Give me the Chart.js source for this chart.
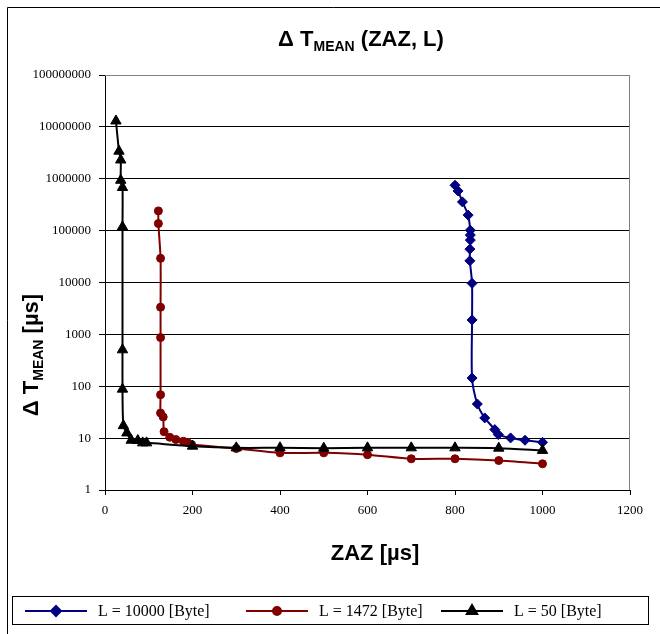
<!DOCTYPE html>
<html>
<head>
<meta charset="utf-8">
<script src="https://cdn.jsdelivr.net/npm/chart.js"></script>
<style>
  html, body { margin: 0; padding: 0; background: #fff; }
  canvas { display: block; }
</style>
</head>
<body>
<canvas id="grafico" width="660" height="634"></canvas>
<script>
// Delta T_MEAN ueber ZAZ, je Paketlaenge L

const xTicks = [0, 200, 400, 600, 800, 1000, 1200];
const yTicks = [1, 10, 100, 1000, 10000, 100000, 1000000, 10000000, 100000000];

const serienNamen = ['L = 10000 [Byte]', 'L = 1472 [Byte]', 'L = 50 [Byte]'];

// L = 10000
const zaz10000 = [800, 807, 817, 830, 835, 835, 835, 834, 834, 839, 839, 839, 851, 868, 891, 899, 927, 960, 1000];
const dt10000 = [750000, 582000, 358000, 199000, 102000, 82000, 65600, 44000, 26200, 9650, 1900, 144, 45.5, 24.5, 14.6, 11.7, 10.1, 9.1, 8.3];

// L = 1472
const zaz1472 = [122, 122, 127, 127, 127, 127, 127, 133, 135, 148, 162, 179, 188, 198, 300, 400, 500, 600, 700, 800, 900, 1000];
const dt1472 = [240000, 137000, 29200, 3340, 868, 68.6, 30.5, 25.6, 13.3, 10.4, 9.4, 8.7, 8.3, 7.5, 6.3, 5.2, 5.2, 4.8, 4.0, 4.0, 3.7, 3.2];

// L = 50
const zaz50 = [25, 32, 36, 36, 40, 40, 40, 40, 42, 50, 60, 75, 86, 95, 200, 300, 400, 500, 600, 700, 800, 900, 1000];
const dt50 = [13000000, 3400000, 2300000, 935000, 678000, 118000, 504, 88, 17.4, 12.6, 9.1, 9.0, 8.1, 8.1, 7.0, 6.5, 6.5, 6.4, 6.5, 6.5, 6.5, 6.4, 5.8];

const farben = ['#000080', '#800000', '#000000'];
const SERIF = "'Liberation Serif', 'Times New Roman', serif";
const SANS = "'Liberation Sans', Arial, sans-serif";

function punkte(xs, ys) {
  return xs.map((x, i) => ({ x: x, y: ys[i] }));
}

// Text mit tiefgestelltem Teil: [text, klein?]
function textBreite(c, teile, gross, klein) {
  let breite = 0;
  teile.forEach(t => {
    c.font = 'bold ' + (t[1] ? klein : gross) + 'px ' + SANS;
    breite += c.measureText(t[0]).width;
  });
  return breite;
}
function zeichneTeile(c, teile, x, y, gross, klein) {
  const b = textBreite(c, teile, gross, klein);
  let px = x - b / 2;
  c.textAlign = 'left';
  c.textBaseline = 'alphabetic';
  teile.forEach(t => {
    c.font = 'bold ' + (t[1] ? klein : gross) + 'px ' + SANS;
    c.fillText(t[0], px, t[1] ? y + 5 : y);
    px += c.measureText(t[0]).width;
  });
}

const deko = {
  id: 'deko',
  beforeDraw(chart) {
    const c = chart.ctx;
    c.save();
    c.fillStyle = '#fff';
    c.fillRect(0, 0, chart.width, chart.height);
    c.strokeStyle = '#000';
    c.lineWidth = 1;
    c.beginPath();
    c.moveTo(7.5, chart.height);
    c.lineTo(7.5, 7.5);
    c.lineTo(chart.width, 7.5);
    c.stroke();
    c.restore();
  },
  beforeDatasetsDraw(chart) {
    const a = chart.chartArea;
    const c = chart.ctx;
    c.save();
    c.strokeStyle = '#808080';
    c.lineWidth = 1;
    c.beginPath();
    c.moveTo(a.left, a.top + 0.5);
    c.lineTo(a.right - 0.5, a.top + 0.5);
    c.lineTo(a.right - 0.5, a.bottom);
    c.stroke();
    c.restore();
  },
  afterDraw(chart) {
    const c = chart.ctx;
    c.save();
    c.fillStyle = '#000';
    // Titel
    zeichneTeile(c, [['\u0394 T', false], ['MEAN', true], [' (ZAZ, L)', false]], 361, 46, 22, 14);
    // x-Achsentitel
    zeichneTeile(c, [['ZAZ [\u00b5s]', false]], 375, 560, 22, 14);
    // y-Achsentitel
    c.save();
    c.translate(38, 355);
    c.rotate(-Math.PI / 2);
    zeichneTeile(c, [['\u0394 T', false], ['MEAN', true], [' [\u00b5s]', false]], 0, 0, 22, 14);
    c.restore();

    // Legende
    c.strokeStyle = '#000';
    c.lineWidth = 1;
    c.strokeRect(12.5, 596.5, 636, 28);
    const lx = [25, 246, 441];
    const ly = 611;
    chart.data.datasets.forEach((ds, i) => {
      c.strokeStyle = ds.borderColor;
      c.fillStyle = ds.backgroundColor;
      c.lineWidth = 2;
      c.beginPath();
      c.moveTo(lx[i], ly);
      c.lineTo(lx[i] + 62, ly);
      c.stroke();
      Chart.helpers.drawPoint(c, {
        pointStyle: ds.pointStyle, radius: ds.pointRadius, rotation: 0, borderWidth: 1
      }, lx[i] + 31, ly);
      c.fillStyle = '#000';
      c.font = '16px ' + SERIF;
      c.textAlign = 'left';
      c.textBaseline = 'middle';
      c.fillText(ds.label, lx[i] + 73, ly + 1);
    });
    c.restore();
  }
};

function serie(i, xs, ys, stil, radius, reihenfolge) {
  return {
    label: serienNamen[i],
    data: punkte(xs, ys),
    showLine: true,
    borderColor: farben[i],
    backgroundColor: farben[i],
    borderWidth: 2,
    tension: 0.25,
    pointStyle: stil,
    pointRadius: radius,
    pointBorderWidth: 1,
    pointBackgroundColor: farben[i],
    pointBorderColor: farben[i],
    order: reihenfolge
  };
}

new Chart(document.getElementById('grafico').getContext('2d'), {
  type: 'scatter',
  data: {
    datasets: [
      serie(0, zaz10000, dt10000, 'rectRot', 5, 2),
      serie(1, zaz1472, dt1472, 'circle', 4, 1),
      serie(2, zaz50, dt50, 'triangle', 6, 0)
    ]
  },
  plugins: [deko],
  options: {
    responsive: false,
    animation: false,
    devicePixelRatio: 1,
    layout: { padding: { left: 15, right: 30, top: 75, bottom: 104 } },
    plugins: { legend: { display: false }, tooltip: { enabled: false }, title: { display: false } },
    scales: {
      x: {
        type: 'linear',
        min: 0, max: 1200,
        afterBuildTicks: s => { s.ticks = xTicks.map(v => ({ value: v })); },
        afterFit: s => { s.height = 40; },
        grid: { drawOnChartArea: false, color: '#000', tickLength: 5 },
        border: { color: '#000', width: 1 },
        ticks: {
          color: '#000', font: { family: SERIF, size: 13 }, padding: 8, maxRotation: 0,
          callback: v => String(v)
        }
      },
      y: {
        type: 'logarithmic',
        min: 1, max: 100000000,
        afterBuildTicks: s => { s.ticks = yTicks.map(v => ({ value: v })); },
        afterFit: s => { s.width = 90; },
        grid: {
          color: c => (c.tick && c.tick.value === 100000000) ? '#808080' : '#000',
          tickColor: '#000',
          tickLength: 6
        },
        border: { color: '#000', width: 1 },
        ticks: {
          color: '#000', font: { family: SERIF, size: 13 }, padding: 8,
          callback: v => String(v)
        }
      }
    }
  }
});
</script>
</body>
</html>
